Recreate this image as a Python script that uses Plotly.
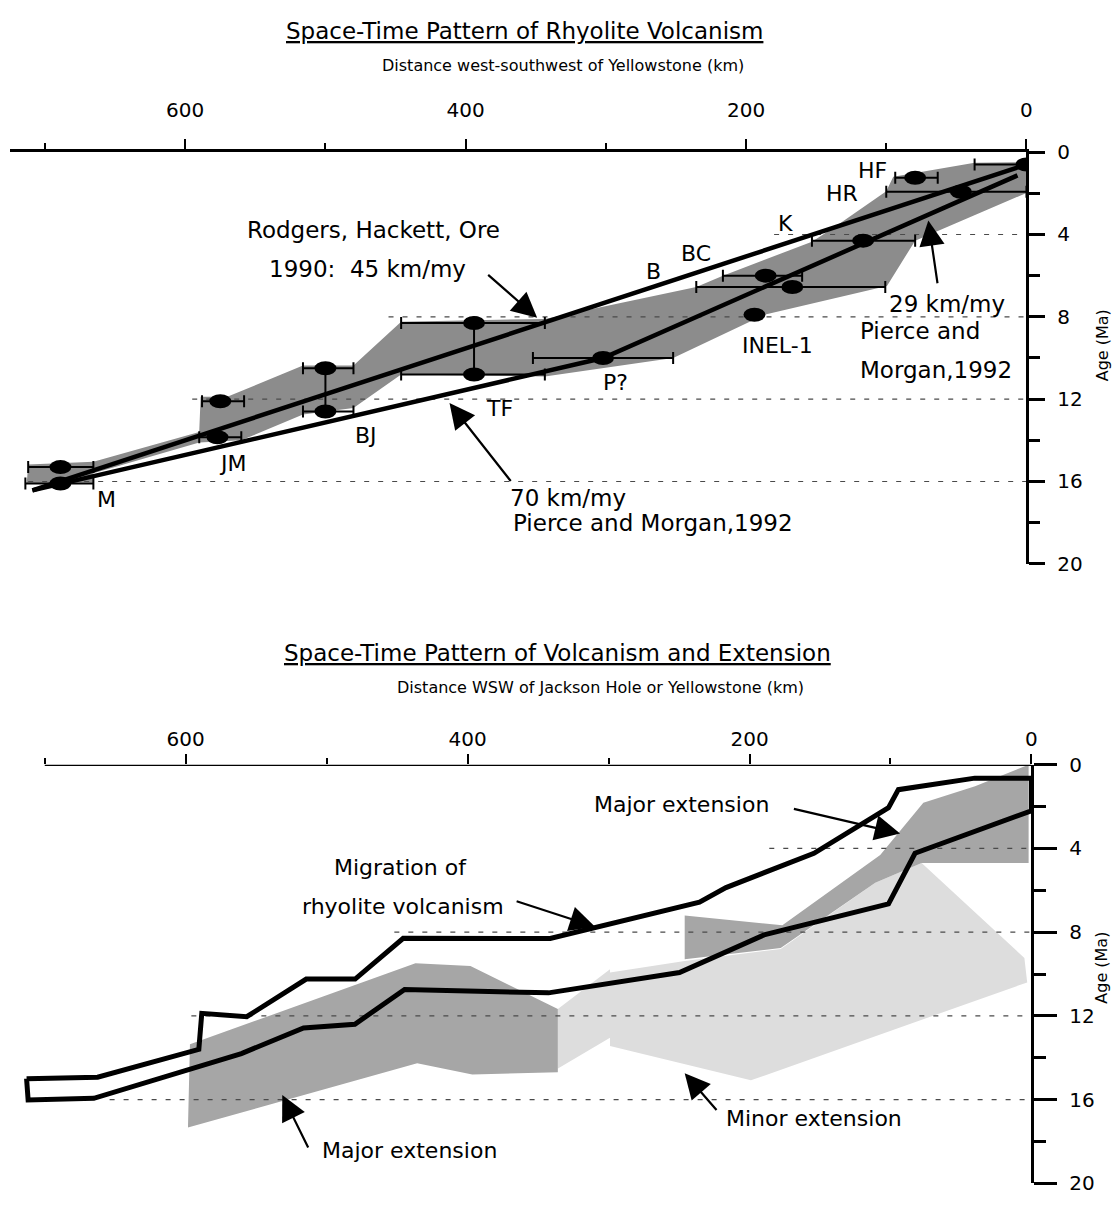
import plotly.graph_objects as go

W, H = 1120, 1209

# ---------------- TOP PANEL DATA ----------------
# shaded band of rhyolite centres (distance km, age Ma)
top_band_km = [712, 665.5, 590, 589, 570, 516, 480, 446, 343.5, 235.5, 216.5, 153, 136, 100, 95, 37, 0,
               0, 79.4, 99.5, 187, 252, 343.5, 446, 480, 516, 560, 590, 665.5, 665.5, 713]
top_band_age = [15.17, 15.04, 13.6, 11.88, 11.88, 10.37, 10.37, 8.24, 8.1, 6.55, 6.0, 4.35, 3.6, 1.9, 1.2, 0.52, 0.48,
                1.98, 4.3, 6.5, 7.9, 10.0, 10.9, 10.8, 12.43, 12.75, 14.0, 14.1, 15.6, 16.05, 16.07]

# dated centres with ranges
site_label = ["M", "M", "JM", "JM", "BJ", "BJ", "TF", "TF", "P?", "INEL-1", "BC", "BC", "K", "HR", "HF", "YS"]
site_km = [689, 689, 575, 577, 500, 500, 394, 394, 302, 194, 186, 167, 116.5, 46.8, 79.4, 0]
site_age = [15.3, 16.1, 12.1, 13.85, 10.5, 12.6, 8.3, 10.8, 10.0, 7.9, 6.0, 6.55, 4.3, 1.92, 1.24, 0.6]
site_km_far = [712, 714, 588, 590, 516, 516, 446, 446, 352, None, 216.5, 235.5, 153, 100, 93.6, 37]
site_km_near = [665.5, 665.5, 558, 560, 480, 480, 343.5, 343.5, 252, None, 160, 100.7, 79.4, 0, 63.3, 0]
paired_sites = [(4, 5), (6, 7)]

# migration-rate lines
rodgers_km = [709, 0]
rodgers_age = [16.43, 0.6]
pierce_km = [709, 302, 6.4]
pierce_age = [16.43, 10.0, 1.13]

# centre labels
top_lbl_text = ["HF", "HR", "K", "BC", "B", "INEL-1", "P?", "TF", "BJ", "JM", "M"]
top_lbl_km = [110, 131.4, 171.6, 235.5, 265.7, 177.5, 293.4, 376, 471, 566, 656]
top_lbl_age = [0.89, 2.0, 3.48, 4.94, 5.78, 9.38, 11.2, 12.43, 13.78, 15.12, 16.86]

# reference dashed levels
dash_age = [4, 8, 12, 16]
top_dash_start_km = [180, 455, 595, 712]
bot_dash_start_km = [186, 452, 596, 654]

# axis ticks
x_major = [0, 200, 400, 600]
x_minor = [100, 300, 500, 700]
y_major = [0, 4, 8, 12, 16, 20]
y_minor = [2, 6, 10, 14, 18]

# ---------------- BOTTOM PANEL DATA ----------------
mig_km = [712.9, 662.5, 590.7, 588.6, 556.7, 514.5, 479.8, 445.7, 341.4, 235.5, 216.7, 154.3, 101.4, 94.4, 40.2, 0,
          0, 82.6, 101.4, 189.7, 249.7, 342.6, 444.7, 480, 516.4, 560.5, 665.2, 711.8, 712.9]
mig_age = [15.0, 14.93, 13.6, 11.88, 12.04, 10.24, 10.24, 8.29, 8.3, 6.57, 5.87, 4.23, 2.05, 1.19, 0.64, 0.64,
           2.2, 4.23, 6.65, 8.13, 9.93, 10.9, 10.74, 12.4, 12.58, 13.8, 15.94, 16.02, 15.0]

minor_km = [336.2, 336.2, 299, 299, 246, 177.9, 110.8, 77.9, 5, 3, 199, 299, 299]
minor_age = [14.53, 11.68, 9.77, 9.93, 9.38, 8.8, 5.64, 4.7, 9.23, 10.4, 15.08, 13.44, 13.05]

major_w_km = [597, 437, 398, 336, 336, 396.7, 435.8, 598.4]
major_w_age = [13.36, 9.49, 9.62, 11.67, 14.7, 14.8, 14.27, 17.34]

major_e_km = [2, 40, 76.7, 107.3, 176.7, 246, 246, 177.9, 110.8, 77.9, 2]
major_e_age = [0, 1.03, 1.81, 4.31, 7.67, 7.2, 9.3, 8.76, 5.64, 4.7, 4.7]

bottom_axis_extent_km = [700, 0]

# ---------------- FIGURE ----------------
BAND_TOP = "#8c8c8c"
DARK = "#a6a6a6"
LIGHT = "#dddddd"
DASH = "#4a4a4a"
TXT = "DejaVu Sans, Verdana, sans-serif"
TICKF = "DejaVu Sans, sans-serif"

fig = go.Figure()

# --- top panel (x, y)
fig.add_trace(go.Scatter(x=top_band_km, y=top_band_age, fill="toself", fillcolor=BAND_TOP,
                         line=dict(width=0), mode="lines", xaxis="x", yaxis="y", hoverinfo="skip"))
for a, s in zip(dash_age, top_dash_start_km):
    fig.add_trace(go.Scatter(x=[s, 0], y=[a, a], mode="lines", xaxis="x", yaxis="y",
                             line=dict(color=DASH, width=1.2, dash="5px,9px"), hoverinfo="skip"))
fig.add_trace(go.Scatter(x=rodgers_km, y=rodgers_age, mode="lines", xaxis="x", yaxis="y",
                         line=dict(color="black", width=4.5)))
fig.add_trace(go.Scatter(x=pierce_km, y=pierce_age, mode="lines", xaxis="x", yaxis="y",
                         line=dict(color="black", width=4.5)))
# error bars
eb_x, eb_y, eb_plus, eb_minus = [], [], [], []
for k, a, far, near in zip(site_km, site_age, site_km_far, site_km_near):
    if far is None:
        continue
    eb_x.append(k)
    eb_y.append(a)
    eb_plus.append(far - k)
    eb_minus.append(k - near)
fig.add_trace(go.Scatter(x=eb_x, y=eb_y, mode="markers", marker=dict(size=1, color="black"),
                         xaxis="x", yaxis="y",
                         error_x=dict(type="data", symmetric=False, array=eb_plus, arrayminus=eb_minus,
                                      color="black", thickness=2, width=6)))
# connectors between paired ages
cx, cy = [], []
for i, j in paired_sites:
    cx += [site_km[i], site_km[j], None]
    cy += [site_age[i], site_age[j], None]
fig.add_trace(go.Scatter(x=cx, y=cy, mode="lines", line=dict(color="black", width=2),
                         xaxis="x", yaxis="y"))

# --- bottom panel (x2, y2)
fig.add_trace(go.Scatter(x=minor_km, y=minor_age, fill="toself", fillcolor=LIGHT, line=dict(width=0),
                         mode="lines", xaxis="x2", yaxis="y2", hoverinfo="skip"))
fig.add_trace(go.Scatter(x=major_w_km, y=major_w_age, fill="toself", fillcolor=DARK, line=dict(width=0),
                         mode="lines", xaxis="x2", yaxis="y2", hoverinfo="skip"))
fig.add_trace(go.Scatter(x=major_e_km, y=major_e_age, fill="toself", fillcolor=DARK, line=dict(width=0),
                         mode="lines", xaxis="x2", yaxis="y2", hoverinfo="skip"))
for a, s in zip(dash_age, bot_dash_start_km):
    fig.add_trace(go.Scatter(x=[s, 0], y=[a, a], mode="lines", xaxis="x2", yaxis="y2",
                             line=dict(color=DASH, width=1.2, dash="5px,9px"), hoverinfo="skip"))
fig.add_trace(go.Scatter(x=mig_km, y=mig_age, mode="lines", xaxis="x2", yaxis="y2",
                         line=dict(color="black", width=5)))

shapes = []
# ellipse markers for dated centres
for k, a in zip(site_km, site_age):
    shapes.append(dict(type="circle", xref="x", yref="y", xsizemode="pixel", ysizemode="pixel",
                       xanchor=k, yanchor=a, x0=-11, x1=11, y0=-7, y1=7,
                       fillcolor="black", line=dict(width=0), layer="above"))
# bottom distance axis line (shorter than the plotting range)
shapes.append(dict(type="line", xref="x2", yref="y2", x0=bottom_axis_extent_km[0], x1=bottom_axis_extent_km[1],
                   y0=0, y1=0, line=dict(color="black", width=2.5), layer="above"))


def px_x(px):
    return px / W


def px_y(py):
    return 1 - py / H


annotations = []


def txt(text, x, y, size=23, xref="x", yref="y", xanchor="center", angle=0):
    annotations.append(dict(text=text, x=x, y=y, xref=xref, yref=yref, xanchor=xanchor, yanchor="middle",
                            showarrow=False, textangle=angle, font=dict(family=TXT, size=size, color="black")))


def arrow(tip_x, tip_y, tail_x, tail_y, xr="x", yr="y"):
    annotations.append(dict(text="", x=tip_x, y=tip_y, ax=tail_x, ay=tail_y, xref=xr, yref=yr,
                            axref=xr, ayref=yr, showarrow=True, arrowhead=2, arrowsize=2.3,
                            arrowwidth=2.2, arrowcolor="black", standoff=0, startstandoff=0))


# titles
txt("<u>Space-Time Pattern of Rhyolite Volcanism</u>", px_x(527), px_y(19), 23, "paper", "paper")
txt("Distance west-southwest of Yellowstone (km)", px_x(566), px_y(55), 16, "paper", "paper")
txt("<u>Space-Time Pattern of Volcanism and Extension</u>", px_x(561), px_y(654), 23, "paper", "paper")
txt("Distance WSW of Jackson Hole or Yellowstone (km)", px_x(604), px_y(689), 16, "paper", "paper")
txt("Age (Ma)", px_x(1108), px_y(340), 16, "paper", "paper", angle=-90)
txt("Age (Ma)", px_x(1108), px_y(975), 16, "paper", "paper", angle=-90)

# top labels
for t, k, a in zip(top_lbl_text, top_lbl_km, top_lbl_age):
    txt(t, k, a, 22)
txt("Rodgers, Hackett, Ore", 466, 3.76, 23)
txt("1990:\u00a0 45 km/my", 469.9, 5.67, 23)
arrow(349, 8.05, 385, 5.9)
txt("70 km/my", 369.7, 16.8, 23, xanchor="left")
txt("Pierce and Morgan,1992", 367.4, 18.0, 23, xanchor="left")
arrow(411.5, 12.19, 367, 16.05)
txt("29 km/my", 99.5, 7.38, 23, xanchor="left")
txt("Pierce and", 119.9, 8.67, 23, xanchor="left")
txt("Morgan,1992", 119.9, 10.57, 23, xanchor="left")
arrow(70, 3.32, 63.3, 6.44)

# bottom labels
txt("Major extension", 248.4, 1.89, 22, "x2", "y2")
arrow(93.2, 3.29, 169.6, 2.09, "x2", "y2")
txt("Migration of", 447.8, 4.92, 22, "x2", "y2")
txt("rhyolite volcanism", 446, 6.79, 22, "x2", "y2")
arrow(309.6, 7.74, 366.3, 6.5, "x2", "y2")
txt("Major extension", 441.4, 18.44, 22, "x2", "y2")
arrow(531.5, 15.78, 512.6, 18.36, "x2", "y2")
txt("Minor extension", 154.3, 16.92, 22, "x2", "y2")
arrow(246, 14.74, 222.5, 16.57, "x2", "y2")


def xaxis_cfg(rng, dom, anchor, standoff, showline=True):
    return dict(domain=dom, range=rng, anchor=anchor, side="top", showline=showline, linecolor="black",
                linewidth=2.5, ticks="outside", ticklen=10, tickwidth=2, tickcolor="black",
                tickvals=x_major, ticktext=[str(v) for v in x_major],
                minor=dict(tickvals=x_minor, ticks="outside", ticklen=6, tickwidth=2,
                           tickcolor="black"),
                tickfont=dict(family=TICKF, size=20, color="black"), ticklabelstandoff=standoff,
                showgrid=False, zeroline=False, fixedrange=True)


def yaxis_cfg(dom, anchor, tlen, mlen):
    return dict(domain=dom, range=[20, 0], anchor=anchor, side="right", showline=True, linecolor="black",
                linewidth=2.5, ticks="outside", ticklen=tlen, tickwidth=2.5, tickcolor="black",
                tickvals=y_major,
                minor=dict(tickvals=y_minor, ticks="outside", ticklen=mlen, tickwidth=2.5,
                           tickcolor="black"),
                tickfont=dict(family=TICKF, size=20, color="black"), ticklabelstandoff=8,
                showgrid=False, zeroline=False, fixedrange=True)


BOT_PX_PER_KM = (1037 - 45) / 700.0
bot_left_km = 730
fig.update_layout(
    width=W, height=H, margin=dict(l=0, r=0, t=0, b=0),
    paper_bgcolor="white", plot_bgcolor="rgba(0,0,0,0)", showlegend=False,
    xaxis=xaxis_cfg([725, 0], [px_x(10), px_x(1032)], "y", 14),
    yaxis=yaxis_cfg([px_y(563), px_y(143)], "x", 16, 11),
    xaxis2=xaxis_cfg([bot_left_km, 0], [px_x(1037 - bot_left_km * BOT_PX_PER_KM), px_x(1037)], "y2", 0,
                     showline=False),
    yaxis2=yaxis_cfg([px_y(1195), px_y(768)], "x2", 23, 12),
    shapes=shapes, annotations=annotations,
)

fig.write_html("out.html", config={"displayModeBar": False},
               post_script="document.body.style.margin='0';")
